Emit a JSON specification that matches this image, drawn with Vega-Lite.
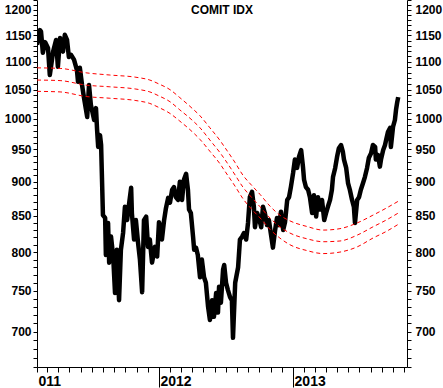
{
  "$schema": "https://vega.github.io/schema/vega-lite/v6.json",
  "width": 370,
  "height": 367,
  "autosize": {"type": "none"},
  "padding": {"left": 37, "top": 0, "right": 36, "bottom": 21},
  "background": "white",
  "title": {"text": "COMIT IDX", "font": "Liberation Sans", "fontSize": 12, "fontWeight": "bold", "color": "black", "anchor": "middle", "offset": -23},
  "config": {
    "view": {"stroke": null},
    "axis": {"grid": false, "title": null, "domainColor": "black", "tickColor": "black", "labelColor": "black", "labelFont": "Liberation Sans", "labelFontWeight": "bold", "labelOverlap": false, "labelFlush": false, "labelBound": false}
  },
  "datasets": {
    "price": [
      {"d": "2011-02-02", "v": 1132}, {"d": "2011-02-10", "v": 1160}, {"d": "2011-02-13", "v": 1157}, {"d": "2011-02-18", "v": 1117},
      {"d": "2011-02-24", "v": 1137}, {"d": "2011-03-04", "v": 1126}, {"d": "2011-03-09", "v": 1076}, {"d": "2011-03-18", "v": 1119},
      {"d": "2011-03-26", "v": 1141}, {"d": "2011-03-31", "v": 1091}, {"d": "2011-04-06", "v": 1145}, {"d": "2011-04-14", "v": 1119},
      {"d": "2011-04-19", "v": 1151}, {"d": "2011-04-25", "v": 1141}, {"d": "2011-04-30", "v": 1109}, {"d": "2011-05-06", "v": 1113},
      {"d": "2011-05-14", "v": 1104}, {"d": "2011-05-22", "v": 1085}, {"d": "2011-05-25", "v": 1064}, {"d": "2011-05-30", "v": 1089},
      {"d": "2011-06-05", "v": 1058}, {"d": "2011-06-10", "v": 1037}, {"d": "2011-06-19", "v": 1003}, {"d": "2011-06-24", "v": 1058},
      {"d": "2011-06-29", "v": 1024}, {"d": "2011-07-02", "v": 1015}, {"d": "2011-07-08", "v": 998}, {"d": "2011-07-13", "v": 1018},
      {"d": "2011-07-16", "v": 982}, {"d": "2011-07-19", "v": 954}, {"d": "2011-07-24", "v": 973}, {"d": "2011-07-27", "v": 957},
      {"d": "2011-08-01", "v": 851}, {"d": "2011-08-07", "v": 847}, {"d": "2011-08-09", "v": 796}, {"d": "2011-08-15", "v": 840},
      {"d": "2011-08-18", "v": 786}, {"d": "2011-08-23", "v": 821}, {"d": "2011-08-29", "v": 794}, {"d": "2011-09-03", "v": 747},
      {"d": "2011-09-08", "v": 803}, {"d": "2011-09-14", "v": 738}, {"d": "2011-09-19", "v": 803}, {"d": "2011-09-25", "v": 826},
      {"d": "2011-09-30", "v": 863}, {"d": "2011-10-06", "v": 844}, {"d": "2011-10-11", "v": 866}, {"d": "2011-10-17", "v": 891},
      {"d": "2011-10-19", "v": 854}, {"d": "2011-10-25", "v": 817}, {"d": "2011-10-30", "v": 844}, {"d": "2011-11-05", "v": 812},
      {"d": "2011-11-10", "v": 790}, {"d": "2011-11-16", "v": 748}, {"d": "2011-11-21", "v": 844}, {"d": "2011-11-27", "v": 849},
      {"d": "2011-12-02", "v": 807}, {"d": "2011-12-07", "v": 817}, {"d": "2011-12-13", "v": 786}, {"d": "2011-12-21", "v": 807},
      {"d": "2011-12-27", "v": 794}, {"d": "2012-01-01", "v": 841}, {"d": "2012-01-03", "v": 837}, {"d": "2012-01-09", "v": 817},
      {"d": "2012-01-15", "v": 844}, {"d": "2012-01-20", "v": 861}, {"d": "2012-01-26", "v": 876}, {"d": "2012-01-31", "v": 869},
      {"d": "2012-02-06", "v": 888}, {"d": "2012-02-11", "v": 892}, {"d": "2012-02-16", "v": 877}, {"d": "2012-02-22", "v": 873},
      {"d": "2012-02-27", "v": 900}, {"d": "2012-03-04", "v": 873}, {"d": "2012-03-09", "v": 903}, {"d": "2012-03-15", "v": 912},
      {"d": "2012-03-20", "v": 888}, {"d": "2012-03-23", "v": 859}, {"d": "2012-03-28", "v": 854}, {"d": "2012-04-03", "v": 821},
      {"d": "2012-04-06", "v": 803}, {"d": "2012-04-11", "v": 806}, {"d": "2012-04-16", "v": 796}, {"d": "2012-04-22", "v": 767},
      {"d": "2012-04-27", "v": 790}, {"d": "2012-05-03", "v": 767}, {"d": "2012-05-08", "v": 760}, {"d": "2012-05-14", "v": 730},
      {"d": "2012-05-19", "v": 714}, {"d": "2012-05-25", "v": 738}, {"d": "2012-05-30", "v": 718}, {"d": "2012-06-05", "v": 747},
      {"d": "2012-06-10", "v": 723}, {"d": "2012-06-13", "v": 755}, {"d": "2012-06-18", "v": 735}, {"d": "2012-06-24", "v": 777},
      {"d": "2012-06-27", "v": 783}, {"d": "2012-07-02", "v": 760}, {"d": "2012-07-07", "v": 751}, {"d": "2012-07-13", "v": 742},
      {"d": "2012-07-18", "v": 738}, {"d": "2012-07-21", "v": 693}, {"d": "2012-07-27", "v": 760}, {"d": "2012-08-04", "v": 780},
      {"d": "2012-08-09", "v": 817}, {"d": "2012-08-15", "v": 821}, {"d": "2012-08-20", "v": 826}, {"d": "2012-08-26", "v": 817},
      {"d": "2012-08-31", "v": 840}, {"d": "2012-09-05", "v": 877}, {"d": "2012-09-11", "v": 885}, {"d": "2012-09-16", "v": 863},
      {"d": "2012-09-19", "v": 834}, {"d": "2012-09-25", "v": 854}, {"d": "2012-09-30", "v": 847}, {"d": "2012-10-06", "v": 834},
      {"d": "2012-10-11", "v": 863}, {"d": "2012-10-16", "v": 854}, {"d": "2012-10-22", "v": 837}, {"d": "2012-10-27", "v": 844},
      {"d": "2012-11-02", "v": 823}, {"d": "2012-11-07", "v": 806}, {"d": "2012-11-13", "v": 830}, {"d": "2012-11-18", "v": 847},
      {"d": "2012-11-24", "v": 837}, {"d": "2012-11-29", "v": 856}, {"d": "2012-12-05", "v": 830}, {"d": "2012-12-10", "v": 841},
      {"d": "2012-12-16", "v": 873}, {"d": "2012-12-21", "v": 877}, {"d": "2012-12-26", "v": 892}, {"d": "2013-01-01", "v": 913},
      {"d": "2013-01-06", "v": 934}, {"d": "2013-01-12", "v": 921}, {"d": "2013-01-17", "v": 938}, {"d": "2013-01-23", "v": 949},
      {"d": "2013-01-28", "v": 923}, {"d": "2013-01-31", "v": 903}, {"d": "2013-02-05", "v": 892}, {"d": "2013-02-11", "v": 888},
      {"d": "2013-02-16", "v": 877}, {"d": "2013-02-22", "v": 854}, {"d": "2013-02-27", "v": 880}, {"d": "2013-03-05", "v": 849},
      {"d": "2013-03-10", "v": 877}, {"d": "2013-03-16", "v": 859}, {"d": "2013-03-21", "v": 873}, {"d": "2013-03-27", "v": 844},
      {"d": "2013-04-01", "v": 854}, {"d": "2013-04-06", "v": 863}, {"d": "2013-04-12", "v": 873}, {"d": "2013-04-17", "v": 888},
      {"d": "2013-04-20", "v": 907}, {"d": "2013-04-26", "v": 921}, {"d": "2013-05-01", "v": 938}, {"d": "2013-05-06", "v": 952},
      {"d": "2013-05-12", "v": 957}, {"d": "2013-05-17", "v": 946}, {"d": "2013-05-20", "v": 934}, {"d": "2013-05-26", "v": 921},
      {"d": "2013-05-31", "v": 898}, {"d": "2013-06-05", "v": 888}, {"d": "2013-06-11", "v": 873}, {"d": "2013-06-16", "v": 863},
      {"d": "2013-06-19", "v": 840}, {"d": "2013-06-25", "v": 873}, {"d": "2013-06-30", "v": 877}, {"d": "2013-07-05", "v": 888},
      {"d": "2013-07-11", "v": 898}, {"d": "2013-07-16", "v": 907}, {"d": "2013-07-22", "v": 921}, {"d": "2013-07-27", "v": 937},
      {"d": "2013-08-02", "v": 944}, {"d": "2013-08-07", "v": 957}, {"d": "2013-08-13", "v": 954}, {"d": "2013-08-15", "v": 934},
      {"d": "2013-08-21", "v": 941}, {"d": "2013-08-26", "v": 923}, {"d": "2013-08-29", "v": 934}, {"d": "2013-09-04", "v": 949},
      {"d": "2013-09-09", "v": 957}, {"d": "2013-09-12", "v": 965}, {"d": "2013-09-17", "v": 978}, {"d": "2013-09-23", "v": 985},
      {"d": "2013-09-25", "v": 954}, {"d": "2013-10-01", "v": 987}, {"d": "2013-10-06", "v": 998}, {"d": "2013-10-09", "v": 1015},
      {"d": "2013-10-12", "v": 1027}, {"d": "2013-10-15", "v": 1037}
    ],
    "band": [
      {"d": "2011-02-02", "s": "upper", "v": 1089}, {"d": "2011-02-02", "s": "mid", "v": 1067}, {"d": "2011-02-02", "s": "lower", "v": 1047},
      {"d": "2011-04-06", "s": "upper", "v": 1088}, {"d": "2011-04-06", "s": "mid", "v": 1066}, {"d": "2011-04-06", "s": "lower", "v": 1046},
      {"d": "2011-06-16", "s": "upper", "v": 1080}, {"d": "2011-06-16", "s": "mid", "v": 1058}, {"d": "2011-06-16", "s": "lower", "v": 1038},
      {"d": "2011-08-20", "s": "upper", "v": 1076}, {"d": "2011-08-20", "s": "mid", "v": 1055}, {"d": "2011-08-20", "s": "lower", "v": 1035},
      {"d": "2011-10-30", "s": "upper", "v": 1072}, {"d": "2011-10-30", "s": "mid", "v": 1051}, {"d": "2011-10-30", "s": "lower", "v": 1031},
      {"d": "2011-12-07", "s": "upper", "v": 1067}, {"d": "2011-12-07", "s": "mid", "v": 1046}, {"d": "2011-12-07", "s": "lower", "v": 1026},
      {"d": "2012-01-01", "s": "upper", "v": 1060}, {"d": "2012-01-01", "s": "mid", "v": 1039}, {"d": "2012-01-01", "s": "lower", "v": 1019},
      {"d": "2012-01-31", "s": "upper", "v": 1050}, {"d": "2012-01-31", "s": "mid", "v": 1029}, {"d": "2012-01-31", "s": "lower", "v": 1009},
      {"d": "2012-02-27", "s": "upper", "v": 1036}, {"d": "2012-02-27", "s": "mid", "v": 1015}, {"d": "2012-02-27", "s": "lower", "v": 996},
      {"d": "2012-03-31", "s": "upper", "v": 1018}, {"d": "2012-03-31", "s": "mid", "v": 998}, {"d": "2012-03-31", "s": "lower", "v": 979},
      {"d": "2012-04-22", "s": "upper", "v": 1005}, {"d": "2012-04-22", "s": "mid", "v": 985}, {"d": "2012-04-22", "s": "lower", "v": 966},
      {"d": "2012-05-19", "s": "upper", "v": 985}, {"d": "2012-05-19", "s": "mid", "v": 965}, {"d": "2012-05-19", "s": "lower", "v": 947},
      {"d": "2012-06-16", "s": "upper", "v": 964}, {"d": "2012-06-16", "s": "mid", "v": 944.5}, {"d": "2012-06-16", "s": "lower", "v": 927},
      {"d": "2012-06-29", "s": "upper", "v": 953}, {"d": "2012-06-29", "s": "mid", "v": 934}, {"d": "2012-06-29", "s": "lower", "v": 916},
      {"d": "2012-07-27", "s": "upper", "v": 929}, {"d": "2012-07-27", "s": "mid", "v": 910}, {"d": "2012-07-27", "s": "lower", "v": 893},
      {"d": "2012-08-17", "s": "upper", "v": 910}, {"d": "2012-08-17", "s": "mid", "v": 892}, {"d": "2012-08-17", "s": "lower", "v": 875},
      {"d": "2012-09-11", "s": "upper", "v": 894}, {"d": "2012-09-11", "s": "mid", "v": 876}, {"d": "2012-09-11", "s": "lower", "v": 859},
      {"d": "2012-10-03", "s": "upper", "v": 881}, {"d": "2012-10-03", "s": "mid", "v": 863}, {"d": "2012-10-03", "s": "lower", "v": 847},
      {"d": "2012-10-30", "s": "upper", "v": 864}, {"d": "2012-10-30", "s": "mid", "v": 847}, {"d": "2012-10-30", "s": "lower", "v": 831},
      {"d": "2012-11-26", "s": "upper", "v": 851}, {"d": "2012-11-26", "s": "mid", "v": 834.5}, {"d": "2012-11-26", "s": "lower", "v": 819},
      {"d": "2012-12-23", "s": "upper", "v": 843}, {"d": "2012-12-23", "s": "mid", "v": 826}, {"d": "2012-12-23", "s": "lower", "v": 810},
      {"d": "2013-02-08", "s": "upper", "v": 835}, {"d": "2013-02-08", "s": "mid", "v": 818}, {"d": "2013-02-08", "s": "lower", "v": 802},
      {"d": "2013-03-24", "s": "upper", "v": 830}, {"d": "2013-03-24", "s": "mid", "v": 814}, {"d": "2013-03-24", "s": "lower", "v": 798},
      {"d": "2013-05-09", "s": "upper", "v": 832}, {"d": "2013-05-09", "s": "mid", "v": 815}, {"d": "2013-05-09", "s": "lower", "v": 800},
      {"d": "2013-06-25", "s": "upper", "v": 840}, {"d": "2013-06-25", "s": "mid", "v": 823}, {"d": "2013-06-25", "s": "lower", "v": 807},
      {"d": "2013-08-07", "s": "upper", "v": 851}, {"d": "2013-08-07", "s": "mid", "v": 834.5}, {"d": "2013-08-07", "s": "lower", "v": 819},
      {"d": "2013-09-12", "s": "upper", "v": 861}, {"d": "2013-09-12", "s": "mid", "v": 844}, {"d": "2013-09-12", "s": "lower", "v": 828},
      {"d": "2013-10-15", "s": "upper", "v": 871}, {"d": "2013-10-15", "s": "mid", "v": 854}, {"d": "2013-10-15", "s": "lower", "v": 838}
    ]
  },
  "encoding": {
    "x": {
      "field": "d", "type": "temporal",
      "scale": {"type": "utc", "domain": [{"year": 2011, "month": 2, "date": 2, "utc": true}, {"year": 2013, "month": 11, "date": 8, "utc": true}], "nice": false},
      "axis": {
        "orient": "bottom",
        "values": [
          {"year": 2011, "month": 2, "date": 2, "utc": true},
          {"year": 2011, "month": 3, "date": 1, "utc": true}, {"year": 2011, "month": 4, "date": 1, "utc": true}, {"year": 2011, "month": 5, "date": 1, "utc": true},
          {"year": 2011, "month": 6, "date": 1, "utc": true}, {"year": 2011, "month": 7, "date": 1, "utc": true}, {"year": 2011, "month": 8, "date": 1, "utc": true},
          {"year": 2011, "month": 9, "date": 1, "utc": true}, {"year": 2011, "month": 10, "date": 1, "utc": true}, {"year": 2011, "month": 11, "date": 1, "utc": true},
          {"year": 2011, "month": 12, "date": 1, "utc": true},
          {"year": 2012, "month": 1, "date": 1, "utc": true}, {"year": 2012, "month": 2, "date": 1, "utc": true}, {"year": 2012, "month": 3, "date": 1, "utc": true},
          {"year": 2012, "month": 4, "date": 1, "utc": true}, {"year": 2012, "month": 5, "date": 1, "utc": true}, {"year": 2012, "month": 6, "date": 1, "utc": true},
          {"year": 2012, "month": 7, "date": 1, "utc": true}, {"year": 2012, "month": 8, "date": 1, "utc": true}, {"year": 2012, "month": 9, "date": 1, "utc": true},
          {"year": 2012, "month": 10, "date": 1, "utc": true}, {"year": 2012, "month": 11, "date": 1, "utc": true}, {"year": 2012, "month": 12, "date": 1, "utc": true},
          {"year": 2013, "month": 1, "date": 1, "utc": true}, {"year": 2013, "month": 2, "date": 1, "utc": true}, {"year": 2013, "month": 3, "date": 1, "utc": true},
          {"year": 2013, "month": 4, "date": 1, "utc": true}, {"year": 2013, "month": 5, "date": 1, "utc": true}, {"year": 2013, "month": 6, "date": 1, "utc": true},
          {"year": 2013, "month": 7, "date": 1, "utc": true}, {"year": 2013, "month": 8, "date": 1, "utc": true}, {"year": 2013, "month": 9, "date": 1, "utc": true},
          {"year": 2013, "month": 10, "date": 1, "utc": true}, {"year": 2013, "month": 11, "date": 1, "utc": true}
        ],
        "labelExpr": "utcmonth(datum.value) == 0 ? utcFormat(datum.value, '%Y') : ((utcmonth(datum.value) == 1 && utcyear(datum.value) == 2011) ? '011' : '')",
        "labelAlign": "left",
        "labelOffset": 1,
        "labelPadding": {"condition": {"test": "utcmonth(datum.value) == 0", "value": -13}, "value": 2},
        "labelFontSize": 14,
        "tickSize": {"condition": {"test": "utcmonth(datum.value) == 0", "value": 20}, "value": 5}
      }
    }
  },
  "layer": [
    {
      "data": {"name": "price"},
      "mark": {"type": "line", "color": "black", "strokeWidth": 4.5, "strokeJoin": "round", "clip": true},
      "encoding": {
        "y": {
          "field": "v", "type": "quantitative",
          "scale": {"type": "log", "domain": [660, 1220], "nice": false, "zero": false},
          "axis": {
            "orient": "left",
            "values": [660,670,680,690,700,710,720,730,740,750,760,770,780,790,800,810,820,830,840,850,860,870,880,890,900,910,920,930,940,950,960,970,980,990,1000,1010,1020,1030,1040,1050,1060,1070,1080,1090,1100,1110,1120,1130,1140,1150,1160,1170,1180,1190,1200,1210,1220],
            "labelExpr": "datum.value % 50 == 0 ? format(datum.value, 'd') : ''",
            "labelFontSize": 12,
            "tickSize": 4,
            "labelPadding": 2
          }
        }
      }
    },
    {
      "data": {"name": "band"},
      "mark": {"type": "line", "color": "#ff0000", "strokeWidth": 1, "strokeDash": [4, 3], "interpolate": "monotone", "clip": true},
      "encoding": {
        "y": {
          "field": "v", "type": "quantitative",
          "axis": {
            "orient": "right",
            "values": [660,670,680,690,700,710,720,730,740,750,760,770,780,790,800,810,820,830,840,850,860,870,880,890,900,910,920,930,940,950,960,970,980,990,1000,1010,1020,1030,1040,1050,1060,1070,1080,1090,1100,1110,1120,1130,1140,1150,1160,1170,1180,1190,1200,1210,1220],
            "labelExpr": "datum.value % 50 == 0 ? format(datum.value, 'd') : ''",
            "labelFontSize": 12,
            "tickSize": 4,
            "labelPadding": 4
          }
        },
        "detail": {"field": "s"}
      }
    }
  ],
  "resolve": {"scale": {"y": "shared"}, "axis": {"y": "independent"}}
}
